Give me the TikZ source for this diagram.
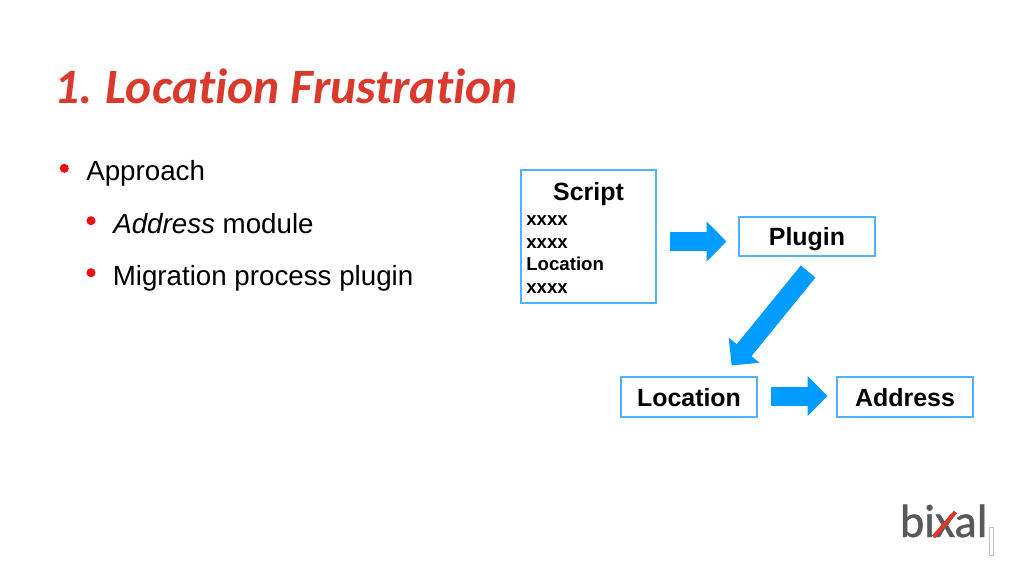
\documentclass[tikz,border=0pt]{standalone}
\usepackage{fontspec}
\setmainfont{Liberation Sans}
\newfontfamily\titlefont[Ligatures={NoCommon,NoRare,NoContextual}]{Carlito}
\newfontfamily\logofont[FakeBold=1.0]{Carlito}
\usetikzlibrary{arrows.meta,calc}
\definecolor{titlered}{HTML}{DA3A2C}
\definecolor{bulletred}{HTML}{E81010}
\definecolor{boxblue}{HTML}{4FB3F5}
\definecolor{arrowblue}{HTML}{009CFF}
\definecolor{logogray}{HTML}{58595B}
\tikzset{
  txt/.style={inner sep=0pt,anchor=base west,font=\fontsize{20.8pt}{24pt}\selectfont},
  dot/.style={circle,fill=bulletred,inner sep=0pt,minimum size=6.8pt},
  box/.style={draw=boxblue,line width=0.8pt,inner sep=0pt,font=\fontsize{18.7pt}{22pt}\selectfont\bfseries,text=black},
  small/.style={inner sep=0pt,anchor=base west,font=\fontsize{14pt}{16pt}\selectfont\bfseries},
  blk/.style={draw=arrowblue,line width=14.25pt,-{Triangle[length=14.8pt,width=29pt,fill=arrowblue]}},
}
\begin{document}
\begin{tikzpicture}[x=0.75pt,y=-0.75pt]
\useasboundingbox (0,0) rectangle (1024,576);
\node[inner sep=0pt,anchor=base west,text=titlered,font=\fontsize{37.1pt}{40pt}\selectfont\titlefont\bfseries\itshape] (title) at (54.5,103) {1.\kern-2.2pt{} Location Frustration};
\node[dot] (b1) at (64.3,168.3) {};
\node[dot] (b2) at (91,220.7) {};
\node[dot] (b3) at (91,272.7) {};
\node[txt] (t1) at (86,180) {Approach};
\node[txt] (t2) at (113,233) {\textit{Address} module};
\node[txt] (t3) at (112.5,285.4) {Migration process plugin};
\node[box,minimum width=101.25pt,minimum height=99.75pt] (script) at (588.5,236.5) {};
\node[inner sep=0pt,anchor=base,font=\fontsize{18.7pt}{22pt}\selectfont\bfseries] (scripthead) at (588.5,200) {Script};
\node[small] (l1) at (526,225) {xxxx};
\node[small] (l2) at (526,248) {xxxx};
\node[small] (l3) at (526,270.7) {Location};
\node[small] (l4) at (526,293.7) {xxxx};
\node[box,minimum width=102pt,minimum height=29.25pt,text height=16pt,text depth=1.8pt] (plugin) at (807,236.5) {Plugin};
\node[box,minimum width=102pt,minimum height=30pt,text height=15.5pt,text depth=2pt] (location) at (689,397) {Location};
\node[box,minimum width=102pt,minimum height=30pt,text height=15.5pt,text depth=2pt] (address) at (905,397) {Address};
\draw[blk,shorten <=9.75pt,shorten >=9pt] ([yshift=-3.75pt]script.east) -- ([yshift=-3.75pt]plugin.west);
\draw[blk,shorten <=14.5pt,shorten >=10.6pt] ([xshift=10pt]plugin.south) -- ([xshift=25.3pt]location.north);
\draw[blk,shorten <=9.75pt,shorten >=6.75pt] ([yshift=0.75pt]location.east) -- ([yshift=0.75pt]address.west);
\node[inner sep=0pt,anchor=base west,text=logogray,font=\fontsize{35pt}{36pt}\selectfont\logofont] (logo) at (899.5,537) {bixal};
\draw[titlered,line width=3.1pt] ($(logo.base west)+(34,0)$) -- +(22,-25);
\node[draw=black!25,line width=0.6pt,fill=white,minimum width=3.4pt,minimum height=21.5pt,inner sep=0pt] (mark) at (991.5,541.5) {};
\end{tikzpicture}
\end{document}
